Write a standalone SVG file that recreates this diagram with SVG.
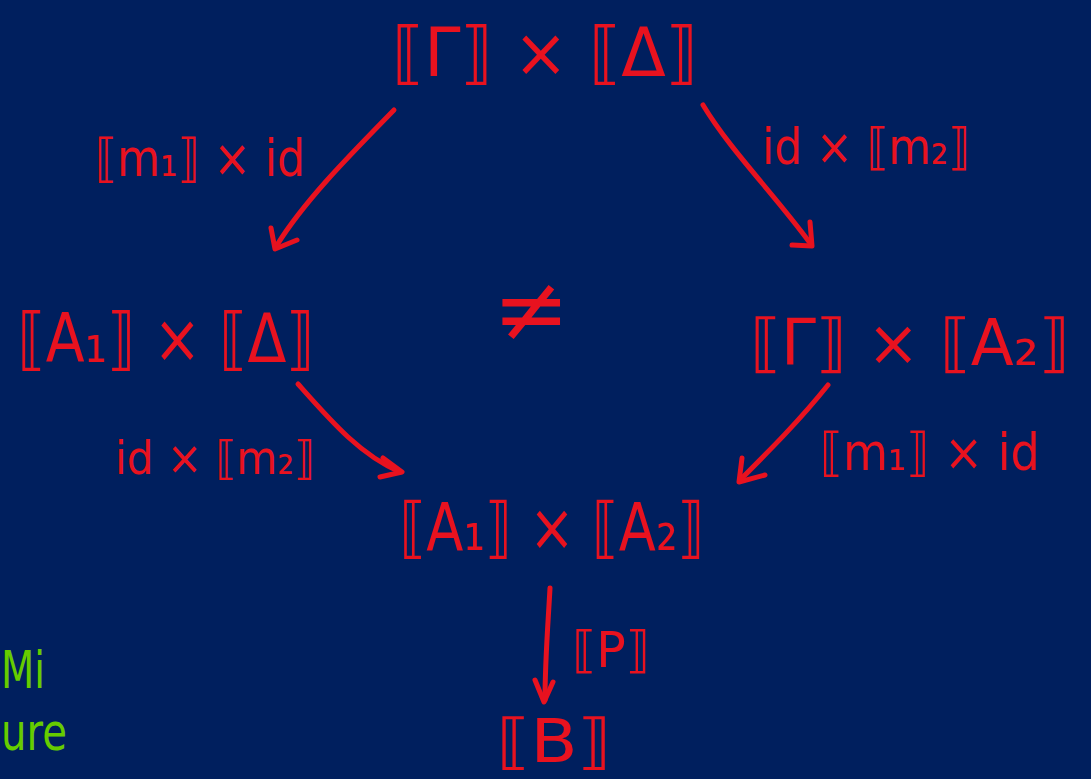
<svg xmlns="http://www.w3.org/2000/svg" width="1091" height="779" viewBox="0 0 1091 779">
<style>
.t{fill:#e8121f;font-family:"DejaVu Sans",sans-serif;text-anchor:middle}
.g{fill:#66cc00;font-family:"DejaVu Sans",sans-serif;text-anchor:start}
.c{fill:none;stroke:#e8121f;stroke-width:5;stroke-linecap:round;stroke-linejoin:round}
</style>
<rect width="1091" height="779" fill="#001f5e"/>
<g id="node-top"><text class="t" x="545" y="76" font-size="68" textLength="306" lengthAdjust="spacingAndGlyphs">⟦Γ⟧ × ⟦Δ⟧</text></g>
<g id="node-left"><text class="t" x="166" y="362" font-size="68" textLength="297" lengthAdjust="spacingAndGlyphs">⟦A₁⟧ × ⟦Δ⟧</text></g>
<g id="node-right"><text class="t" x="910" y="365" font-size="64" textLength="320" lengthAdjust="spacingAndGlyphs">⟦Γ⟧ × ⟦A₂⟧</text></g>
<g id="node-bottom"><text class="t" x="552" y="550" font-size="66" textLength="305" lengthAdjust="spacingAndGlyphs">⟦A₁⟧ × ⟦A₂⟧</text></g>
<g id="node-B"><text class="t" x="554" y="762" font-size="60" textLength="115" lengthAdjust="spacingAndGlyphs">⟦B⟧</text></g>
<g id="neq"><text class="t" x="531" y="341" font-size="92">≠</text></g>
<g id="connectors">
<path class="c" d="M394,110 C350,155 305,200 277,245"/>
<path class="c" d="M271,228 L275,249 L297,240"/>
<path class="c" d="M703,105 C730,150 775,195 810,243"/>
<path class="c" d="M810,222 L812,246 L792,245"/>
<path class="c" d="M298,384 C330,420 360,455 400,472"/>
<path class="c" d="M383,458 L402,472 L380,477"/>
<path class="c" d="M828,385 C800,420 770,450 740,480"/>
<path class="c" d="M742,458 L739,482 L765,475"/>
<path class="c" d="M550,588 C548,625 545,660 545,700"/>
<path class="c" d="M535,680 L544,702 L553,682"/>
</g>
<g id="labels">
<text class="t" x="200" y="176" font-size="52" textLength="210" lengthAdjust="spacingAndGlyphs">⟦m₁⟧ × id</text>
<text class="t" x="866" y="164" font-size="50" textLength="208" lengthAdjust="spacingAndGlyphs">id × ⟦m₂⟧</text>
<text class="t" x="215" y="474" font-size="46" textLength="200" lengthAdjust="spacingAndGlyphs">id × ⟦m₂⟧</text>
<text class="t" x="930" y="470" font-size="52" textLength="220" lengthAdjust="spacingAndGlyphs">⟦m₁⟧ × id</text>
<text class="t" x="611" y="667" font-size="50" textLength="78" lengthAdjust="spacingAndGlyphs">⟦P⟧</text>
</g>
<g id="side-note">
<text class="g" x="1" y="688" font-size="52" textLength="44" lengthAdjust="spacingAndGlyphs">Mi</text>
<text class="g" x="1" y="750" font-size="52" textLength="66" lengthAdjust="spacingAndGlyphs">ure</text>
</g>
</svg>
